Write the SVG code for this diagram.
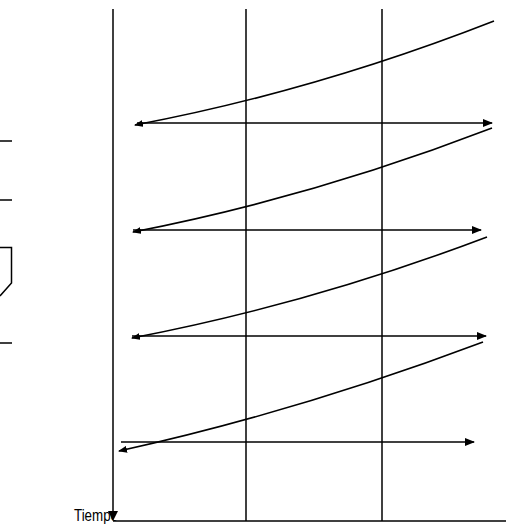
<svg xmlns="http://www.w3.org/2000/svg" width="506" height="531" viewBox="0 0 506 531">
<defs>
<style>
.ln{stroke:#000;stroke-width:1.5;fill:none}
.cv{stroke:#000;stroke-width:1.6;fill:none}
.lbl{font-family:"Liberation Sans",Arial,sans-serif;font-size:17px;fill:#000}
</style>
<marker id="ah" markerWidth="10" markerHeight="8" refX="9" refY="4" orient="auto" markerUnits="userSpaceOnUse">
<path d="M0,0 L10,4 L0,8 Z" fill="#000"/>
</marker>
<marker id="ahs" markerWidth="9" markerHeight="7" refX="8" refY="3.5" orient="auto-start-reverse" markerUnits="userSpaceOnUse">
<path d="M0,0 L9,3.5 L0,7 Z" fill="#000"/>
</marker>
</defs>
<rect width="506" height="531" fill="#fff"/>
<g id="left-fragment">
<path class="ln" d="M0,141 H12 M0,200 H12 M0,343 H12"/>
<path class="ln" d="M0,247.5 H11.5 V283 L0,296"/>
</g>
<g id="label">
<text class="lbl" x="74" y="521" textLength="44" lengthAdjust="spacingAndGlyphs">Tiempo</text>
</g>
<g id="axes">
<rect x="114" y="505" width="10" height="15" fill="#fff"/>
<path class="ln" d="M113,9 V512"/>
<path d="M108,511 L118,511 L113,521 Z" fill="#000"/>
<path class="ln" d="M113,521 H506"/>
<path class="ln" d="M246,9 V521"/>
<path class="ln" d="M382,9 V521"/>
</g>
<g id="connectors">
<path class="ln" d="M137,123 H492" marker-end="url(#ah)"/>
<path class="ln" d="M133,230 H481" marker-end="url(#ah)"/>
<path class="ln" d="M132,336 H486" marker-end="url(#ah)"/>
<path class="ln" d="M121,442 H474" marker-end="url(#ah)"/>
<path class="cv" d="M135,125 Q315,91 494,21" marker-start="url(#ahs)"/>
<path class="cv" d="M133,232 Q313,197 492,128" marker-start="url(#ahs)"/>
<path class="cv" d="M132,338 Q310,304 487,237" marker-start="url(#ahs)"/>
<path class="cv" d="M119,451 Q300,411 483,342" marker-start="url(#ahs)"/>
</g>
</svg>
